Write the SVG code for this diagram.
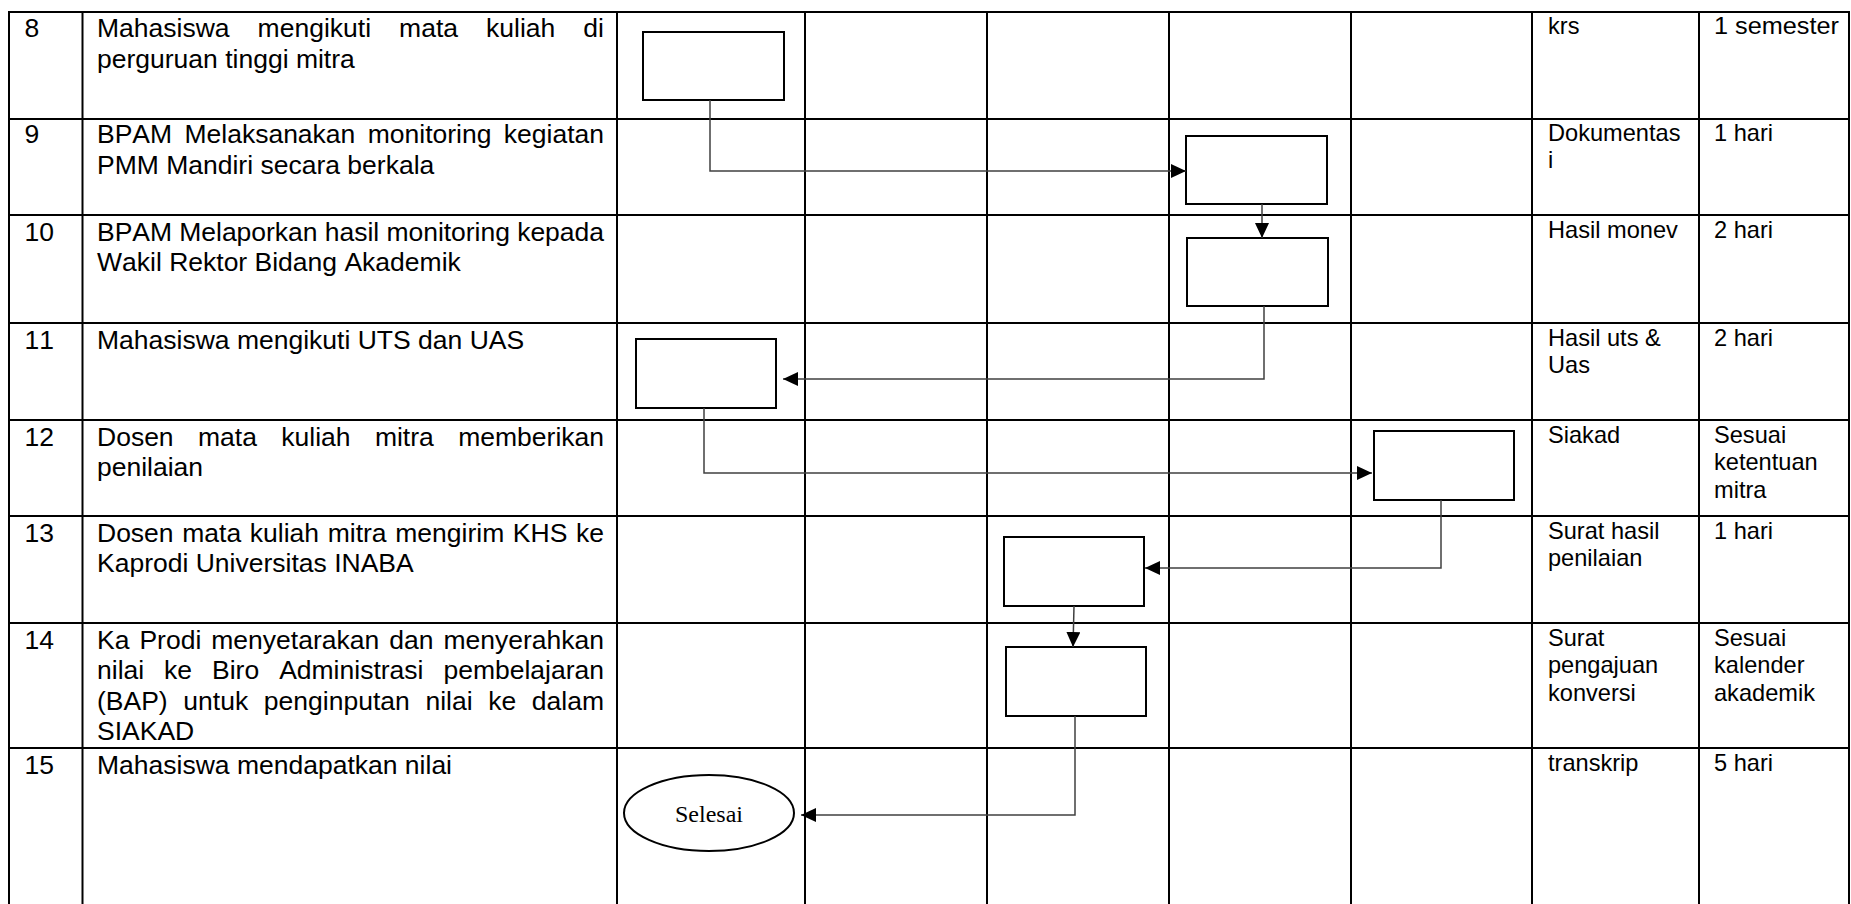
<svg xmlns="http://www.w3.org/2000/svg" width="1851" height="904" viewBox="0 0 1851 904">
<defs>
<marker id="arr" markerUnits="userSpaceOnUse" markerWidth="15" markerHeight="14" refX="15" refY="7" orient="auto"><path d="M0,0 L15,7 L0,14 z" fill="#000"/></marker>
<style>
.grid line{stroke:#000;stroke-width:2}
.t{font-family:"Liberation Sans",Arial,sans-serif;font-size:26.5px;fill:#000;font-kerning:none}
.s{font-family:"Liberation Sans",Arial,sans-serif;font-size:23.6px;fill:#000;font-kerning:none}
.box{fill:#fff;stroke:#000;stroke-width:2}
.conn{fill:none;stroke:#404040;stroke-width:1.5;marker-end:url(#arr)}
.end{font-family:"Liberation Serif","Times New Roman",serif;font-size:24px;fill:#000}
</style>
</defs>
<rect width="1851" height="904" fill="#fff"/>
<g id="grid" class="grid">
<line x1="9" y1="12" x2="1850" y2="12"/>
<line x1="9" y1="119" x2="1850" y2="119"/>
<line x1="9" y1="215" x2="1850" y2="215"/>
<line x1="9" y1="323" x2="1850" y2="323"/>
<line x1="9" y1="420" x2="1850" y2="420"/>
<line x1="9" y1="516" x2="1850" y2="516"/>
<line x1="9" y1="623" x2="1850" y2="623"/>
<line x1="9" y1="748" x2="1850" y2="748"/>
<line x1="9" y1="11" x2="9" y2="904"/>
<line x1="82.5" y1="11" x2="82.5" y2="904"/>
<line x1="617" y1="11" x2="617" y2="904"/>
<line x1="805" y1="11" x2="805" y2="904"/>
<line x1="987" y1="11" x2="987" y2="904"/>
<line x1="1169" y1="11" x2="1169" y2="904"/>
<line x1="1351" y1="11" x2="1351" y2="904"/>
<line x1="1532" y1="11" x2="1532" y2="904"/>
<line x1="1699" y1="11" x2="1699" y2="904"/>
<line x1="1849" y1="11" x2="1849" y2="904"/>
</g>
<g id="row8">
<text class="t" x="24.5" y="37">8</text>
<text class="t" x="97" y="37" textLength="507" lengthAdjust="spacing" style="word-spacing:20.7px">Mahasiswa mengikuti mata kuliah di</text>
<text class="t" x="97" y="67.5">perguruan tinggi mitra</text>
<text class="s" x="1548" y="34">krs</text>
<text class="s" x="1714" y="34" textLength="125" lengthAdjust="spacingAndGlyphs">1 semester</text>
</g>
<g id="row9">
<text class="t" x="24.5" y="143">9</text>
<text class="t" x="97" y="143" textLength="507" lengthAdjust="spacing" style="word-spacing:5px">BPAM Melaksanakan monitoring kegiatan</text>
<text class="t" x="97" y="173.5">PMM Mandiri secara berkala</text>
<text class="s" x="1548" y="141">Dokumentas</text>
<text class="s" x="1548" y="168.3">i</text>
<text class="s" x="1714" y="141">1 hari</text>
</g>
<g id="row10">
<text class="t" x="24.5" y="240.5">10</text>
<text class="t" x="97" y="240.5" textLength="507" lengthAdjust="spacing">BPAM Melaporkan hasil monitoring kepada</text>
<text class="t" x="97" y="271">Wakil Rektor Bidang Akademik</text>
<text class="s" x="1548" y="238">Hasil monev</text>
<text class="s" x="1714" y="238">2 hari</text>
</g>
<g id="row11">
<text class="t" x="24.5" y="348.5">11</text>
<text class="t" x="97" y="348.5">Mahasiswa mengikuti UTS dan UAS</text>
<text class="s" x="1548" y="346">Hasil uts &amp;</text>
<text class="s" x="1548" y="373.3">Uas</text>
<text class="s" x="1714" y="346">2 hari</text>
</g>
<g id="row12">
<text class="t" x="24.5" y="445.5">12</text>
<text class="t" x="97" y="445.5" textLength="507" lengthAdjust="spacing" style="word-spacing:17px">Dosen mata kuliah mitra memberikan</text>
<text class="t" x="97" y="476">penilaian</text>
<text class="s" x="1548" y="443">Siakad</text>
<text class="s" x="1714" y="443">Sesuai</text>
<text class="s" x="1714" y="470.3">ketentuan</text>
<text class="s" x="1714" y="497.6">mitra</text>
</g>
<g id="row13">
<text class="t" x="24.5" y="541.5">13</text>
<text class="t" x="97" y="541.5" textLength="507" lengthAdjust="spacing" style="word-spacing:1.3px">Dosen mata kuliah mitra mengirim KHS ke</text>
<text class="t" x="97" y="572">Kaprodi Universitas INABA</text>
<text class="s" x="1548" y="539">Surat hasil</text>
<text class="s" x="1548" y="566.3">penilaian</text>
<text class="s" x="1714" y="539">1 hari</text>
</g>
<g id="row14">
<text class="t" x="24.5" y="648.5">14</text>
<text class="t" x="97" y="648.5" textLength="507" lengthAdjust="spacing" style="word-spacing:2.6px">Ka Prodi menyetarakan dan menyerahkan</text>
<text class="t" x="97" y="679" textLength="507" lengthAdjust="spacing" style="word-spacing:12.6px">nilai ke Biro Administrasi pembelajaran</text>
<text class="t" x="97" y="709.5" textLength="507" lengthAdjust="spacing" style="word-spacing:8.3px">(BAP) untuk penginputan nilai ke dalam</text>
<text class="t" x="97" y="740">SIAKAD</text>
<text class="s" x="1548" y="646">Surat</text>
<text class="s" x="1548" y="673.3">pengajuan</text>
<text class="s" x="1548" y="700.6">konversi</text>
<text class="s" x="1714" y="646">Sesuai</text>
<text class="s" x="1714" y="673.3">kalender</text>
<text class="s" x="1714" y="700.6">akademik</text>
</g>
<g id="row15">
<text class="t" x="24.5" y="773.5">15</text>
<text class="t" x="97" y="773.5">Mahasiswa mendapatkan nilai</text>
<text class="s" x="1548" y="771">transkrip</text>
<text class="s" x="1714" y="771">5 hari</text>
</g>
<g id="node-a"><rect class="box" x="643" y="32" width="141" height="68"/></g>
<g id="node-b"><rect class="box" x="1186" y="136" width="141" height="68"/></g>
<g id="node-c"><rect class="box" x="1187" y="238" width="141" height="68"/></g>
<g id="node-d"><rect class="box" x="636" y="339" width="140" height="69"/></g>
<g id="node-e"><rect class="box" x="1374" y="431" width="140" height="69"/></g>
<g id="node-f"><rect class="box" x="1004" y="537" width="140" height="69"/></g>
<g id="node-g"><rect class="box" x="1006" y="647" width="140" height="69"/></g>
<g id="node-selesai">
<ellipse class="box" cx="709" cy="813" rx="85" ry="38"/>
<text class="end" x="709" y="822" text-anchor="middle">Selesai</text>
</g>
<g id="connectors">
<path class="conn" d="M710,100 V171 H1186"/>
<path class="conn" d="M1262,204 V238"/>
<path class="conn" d="M1264,306 V379 H783"/>
<path class="conn" d="M704,408 V473 H1372"/>
<path class="conn" d="M1441,500 V568 H1145"/>
<path class="conn" d="M1074,606 L1073,647"/>
<path class="conn" d="M1075,716 V815 H801"/>
</g>
</svg>
